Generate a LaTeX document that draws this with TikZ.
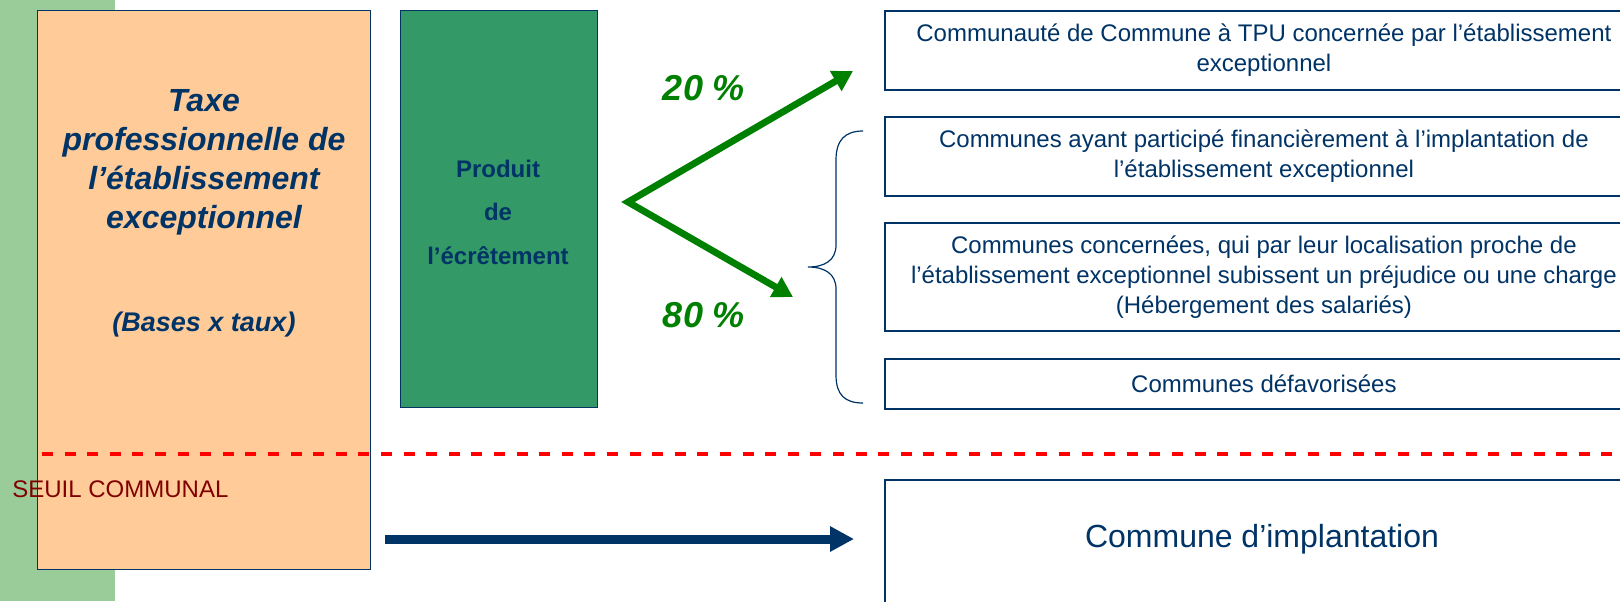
\documentclass[tikz,border=0pt]{standalone}
\usepackage{fontspec}
\setmainfont{Liberation Sans}
\usetikzlibrary{arrows.meta,positioning}
\definecolor{navy}{HTML}{003366}
\definecolor{peach}{HTML}{FFCC99}
\definecolor{dkgreen}{HTML}{339966}
\definecolor{lgreen}{HTML}{99CC99}
\definecolor{argreen}{HTML}{008000}
\definecolor{dkred}{HTML}{800000}
\begin{document}
\begin{tikzpicture}[x=0.5pt,y=-0.5pt,
  bx/.style={draw=navy,line width=0.9pt,fill=white,minimum width=379pt,anchor=north west,inner sep=0pt,align=center,text=navy,font=\fontsize{12}{15}\selectfont},
  lbl/.style={text=navy,align=center,inner sep=0pt},
  pct/.style={text=argreen,inner sep=0pt,font=\fontsize{18}{20}\selectfont\bfseries\itshape},
  ar/.style={{Triangle[length=10pt,width=11pt]}-{Triangle[length=10pt,width=11pt]},line width=3.4pt,draw=argreen},
  br/.style={draw=navy,line width=0.6pt}
]
\useasboundingbox (0,0) rectangle (1620,601);
% left strip and tax box
\fill[lgreen] (0,0) rectangle (115,601);
\node[draw=navy,line width=0.7pt,fill=peach,minimum width=166.5pt,minimum height=279.5pt,anchor=north west] (taxe) at (37,10) {};
\node[lbl,font=\fontsize{16}{19.5}\selectfont\bfseries\itshape] (taxetxt) at (204,162) {Taxe\\professionnelle de\\l’établissement\\exceptionnel};
\node[lbl,font=\fontsize{13.5}{16}\selectfont\bfseries\itshape] (bases) at (204,325) {(Bases x taux)};

% product box
\node[draw=navy,line width=0.7pt,fill=dkgreen,minimum width=98.5pt,minimum height=198.5pt,anchor=north west] (prod) at (400,10) {};
\node[lbl,font=\fontsize{12}{21.75}\selectfont\bfseries] (prodtxt) at (498,212) {Produit\\de\\l’écrêtement};

% split 20 / 80
\coordinate (split) at (628,202);
\coordinate (up) at (853,71);
\coordinate (down) at (793,297);
\draw[ar] (up) -- (split) -- (down);
\node[pct] (p20) at (704,88) {20 \%};
\node[pct] (p80) at (704,315) {80 \%};

% receivers
\node[bx,minimum height=39.5pt] (tpu) at (884,10) {Communauté de Commune à TPU concernée par l’établissement\\exceptionnel};
\node[bx,minimum height=39.5pt] (fin) at (884,116) {Communes ayant participé financièrement à l’implantation de\\l’établissement exceptionnel};
\node[bx,minimum height=54pt] (proche) at (884,222) {Communes concernées, qui par leur localisation proche de\\l’établissement exceptionnel subissent un préjudice ou une charge\\(Hébergement des salariés)};
\node[bx,minimum height=25pt] (defav) at (884,358) {Communes défavorisées};
\draw[br] (863,131) .. controls (845,131) and (836,140) .. (836,160) -- (836,245)
  .. controls (836,260) and (825,267) .. (808,267)
  .. controls (825,267) and (836,274) .. (836,289) -- (836,375)
  .. controls (836,395) and (845,403) .. (863,403);

% seuil communal
\coordinate (seuilL) at (42,454);
\coordinate (seuilR) at (1625,454);
\draw[red,line width=2.3pt,dash pattern=on 5.5pt off 5.8pt] (seuilL) -- (seuilR);
\node[anchor=west,inner sep=0pt,text=dkred,font=\fontsize{12}{14}\selectfont] (seuiltxt) at (12,489) {SEUIL COMMUNAL};

% commune d'implantation
\node[bx,minimum height=80.5pt] (impl) at (884,479) {};
\node[lbl,font=\fontsize{16}{19}\selectfont] (impltxt) at (1262,539) {Commune d’implantation};
\coordinate (implA) at (385,539);
\coordinate (implB) at (854,539);
\draw[navy,line width=4.5pt,-{Triangle[length=12pt,width=12pt]}] (implA) -- (implB);
\end{tikzpicture}
\end{document}
